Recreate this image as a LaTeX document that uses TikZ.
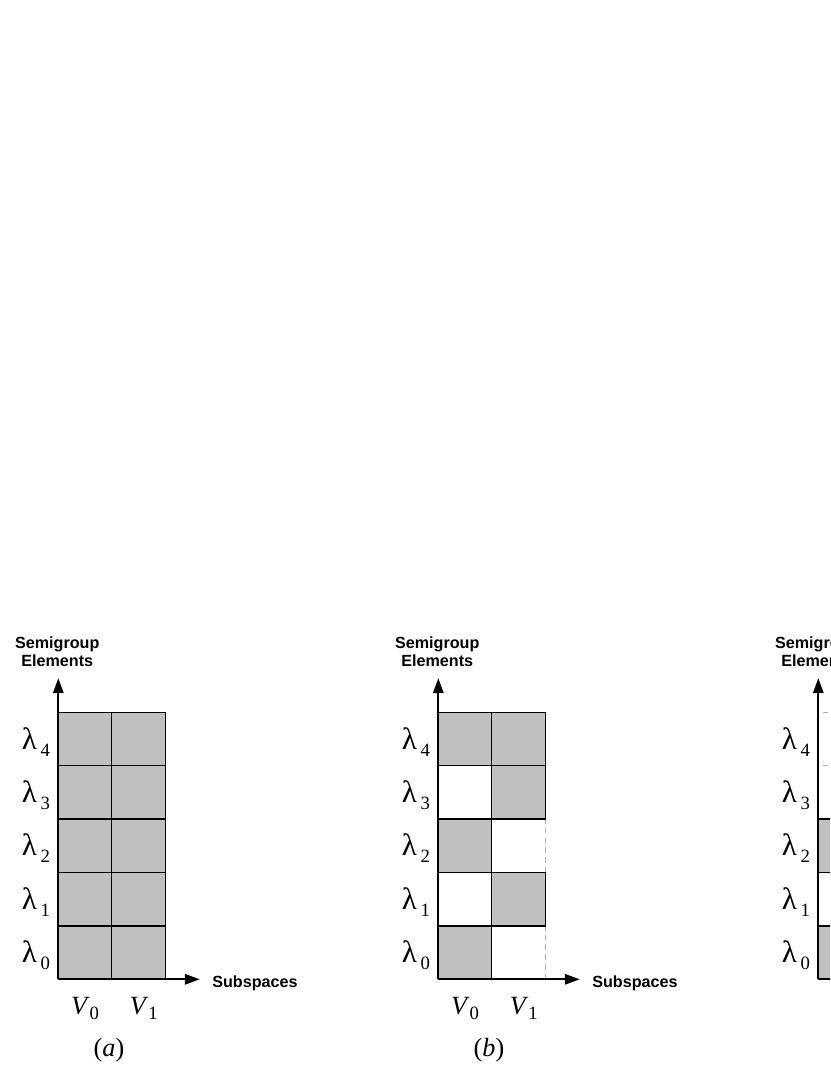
\documentclass[tikz,border=0pt]{standalone}
\usepackage{fontspec}
\setmainfont{Liberation Serif}
\newfontfamily\axisfont{Liberation Sans}
\usetikzlibrary{arrows.meta}
\definecolor{cellgray}{RGB}{192,192,192}
\definecolor{dashgray}{RGB}{175,175,175}
\tikzset{
  cell/.style={draw,fill=cellgray,line width=0.65pt},
  gap/.style={draw=dashgray,dash pattern=on 3pt off 2.2pt,line width=0.55pt},
  axis/.style={line width=1.1pt,-{Triangle[length=8pt,width=5.5pt]}},
  axlabel/.style={font=\axisfont\bfseries\fontsize{8.6}{9.7}\selectfont,align=center},
  lam/.style={font=\fontsize{16.5}{16.5}\selectfont,inner sep=1pt},
  vlab/.style={font=\fontsize{14}{14}\selectfont}
}
\newcommand{\lam}[1]{λ\kern2pt\raisebox{-0.5ex}{\fontsize{10}{10}\selectfont #1}}
\newcommand{\vsub}[1]{\textit{V}\raisebox{-0.4ex}{\fontsize{10}{10}\selectfont #1}}

\begin{document}
\begin{tikzpicture}
\useasboundingbox (-1.092,-1.792) rectangle (14.451,18.339);
\clip (-1.092,-1.792) rectangle (14.451,18.339);
% (a)
\draw[cell] (0,0) rectangle (1,1);
\draw[cell] (1,0) rectangle (2,1);
\draw[cell] (0,1) rectangle (1,2);
\draw[cell] (1,1) rectangle (2,2);
\draw[cell] (0,2) rectangle (1,3);
\draw[cell] (1,2) rectangle (2,3);
\draw[cell] (0,3) rectangle (1,4);
\draw[cell] (1,3) rectangle (2,4);
\draw[cell] (0,4) rectangle (1,5);
\draw[cell] (1,4) rectangle (2,5);
\coordinate (oa) at (0,0);
\coordinate (ya) at (0,5.64);
\coordinate (xa) at (2.65,0);
\draw[axis] (oa) -- (ya);
\draw[axis] (oa) -- (xa);
\node[axlabel] (sga) at (-0.02,6.13) {Semigroup\\Elements};
\node[axlabel,anchor=west] (ssa) at (2.76,-0.07) {Subspaces};
\node[lam] (la0) at (-0.42,0.45) {\lam{0}};
\node[lam] (la1) at (-0.42,1.45) {\lam{1}};
\node[lam] (la2) at (-0.42,2.45) {\lam{2}};
\node[lam] (la3) at (-0.42,3.45) {\lam{3}};
\node[lam] (la4) at (-0.42,4.45) {\lam{4}};
\node[vlab] (va0) at (0.5,-0.55) {\vsub{0}};
\node[vlab] (va1) at (1.6,-0.55) {\vsub{1}};
\node[vlab] (capa) at (0.95,-1.32) {(\textit{a})};

% (b)
\begin{scope}[xshift=7.116cm]
\draw[gap] (2,0) -- (2,1);
\draw[gap] (2,2) -- (2,3);
\draw[cell] (0,0) rectangle (1,1);
\draw[cell] (1,1) rectangle (2,2);
\draw[cell] (0,2) rectangle (1,3);
\draw[cell] (1,3) rectangle (2,4);
\draw[cell] (0,4) rectangle (1,5);
\draw[cell] (1,4) rectangle (2,5);
\coordinate (ob) at (0,0);
\coordinate (yb) at (0,5.64);
\coordinate (xb) at (2.65,0);
\draw[axis] (ob) -- (yb);
\draw[axis] (ob) -- (xb);
\node[axlabel] (sgb) at (-0.02,6.13) {Semigroup\\Elements};
\node[axlabel,anchor=west] (ssb) at (2.76,-0.07) {Subspaces};
\node[lam] (lb0) at (-0.42,0.45) {\lam{0}};
\node[lam] (lb1) at (-0.42,1.45) {\lam{1}};
\node[lam] (lb2) at (-0.42,2.45) {\lam{2}};
\node[lam] (lb3) at (-0.42,3.45) {\lam{3}};
\node[lam] (lb4) at (-0.42,4.45) {\lam{4}};
\node[vlab] (vb0) at (0.5,-0.55) {\vsub{0}};
\node[vlab] (vb1) at (1.6,-0.55) {\vsub{1}};
\node[vlab] (capb) at (0.95,-1.32) {(\textit{b})};
\end{scope}

% (c), cut off at the right edge
\begin{scope}[xshift=14.232cm]
\draw[gap] (0.08,4) -- (1,4);
\draw[gap] (0.08,5) -- (1,5);
\draw[cell] (0,0) rectangle (1,1);
\draw[cell] (0,2) rectangle (1,3);
\coordinate (oc) at (0,0);
\coordinate (yc) at (0,5.64);
\coordinate (xc) at (2.65,0);
\draw[axis] (oc) -- (yc);
\draw[axis] (oc) -- (xc);
\node[axlabel] (sgc) at (-0.02,6.13) {Semigroup\\Elements};
\node[lam] (lc0) at (-0.42,0.45) {\lam{0}};
\node[lam] (lc1) at (-0.42,1.45) {\lam{1}};
\node[lam] (lc2) at (-0.42,2.45) {\lam{2}};
\node[lam] (lc3) at (-0.42,3.45) {\lam{3}};
\node[lam] (lc4) at (-0.42,4.45) {\lam{4}};
\end{scope}
\end{tikzpicture}
\end{document}
